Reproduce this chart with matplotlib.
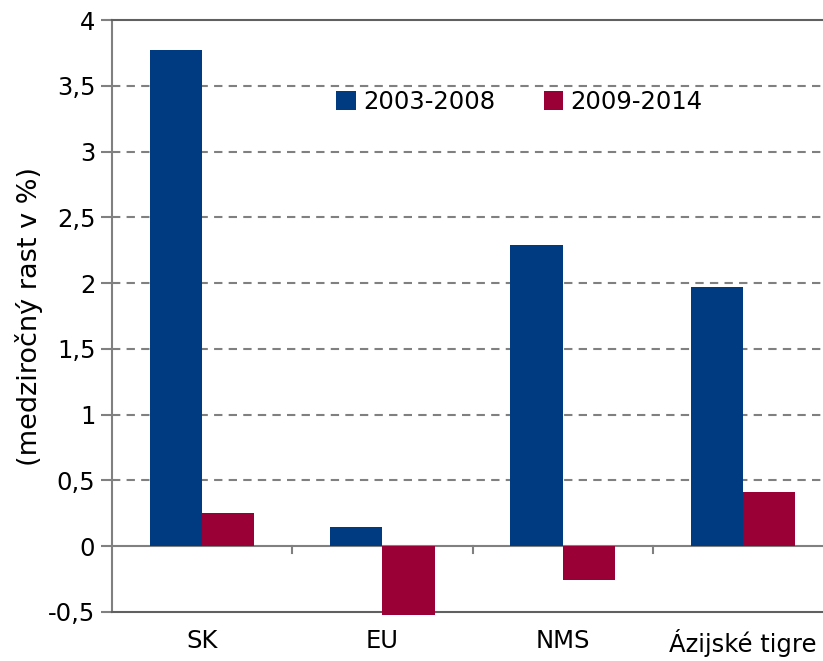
import numpy as np
import matplotlib.pyplot as plt

# data
categories = ["SK", "EU", "NMS", "Ázijské tigre"]
series_names = ["2003-2008", "2009-2014"]
vals_2003_2008 = [3.77, 0.145, 2.29, 1.97]
vals_2009_2014 = [0.25, -0.52, -0.26, 0.41]
yticks = [-0.5, 0, 0.5, 1, 1.5, 2, 2.5, 3, 3.5, 4]

blue = "#003A80"
red = "#9A0036"
gray = "#808080"

plt.rcParams['font.family'] = ['DejaVu Sans']

fig = plt.figure(figsize=(8.23, 6.61), dpi=100)
ax = fig.add_axes([112 / 823, 49 / 661, 721 / 823, 592 / 661])

x = np.arange(len(categories))
w = 0.29
ax.bar(x - w / 2, vals_2003_2008, w, color=blue, label=series_names[0], zorder=3, clip_on=False)
ax.bar(x + w / 2, vals_2009_2014, w, color=red, label=series_names[1], zorder=3, clip_on=False)

ax.set_xlim(-0.5, len(categories) - 0.5)
ax.set_ylim(-0.5, 4)
ax.set_yticks(yticks)
ax.set_yticklabels([("%g" % v).replace(".", ",") for v in yticks], fontsize=17.5)
ax.set_xticks(x)
ax.set_xticklabels(categories, fontsize=17.5)
ax.tick_params(axis='x', length=0, pad=12)
ax.tick_params(axis='y', length=8, width=1.5, color=gray, pad=4)

# horizontal dashed gridlines
for v in yticks[2:-1]:
    ax.axhline(v, color=gray, lw=1.5, ls=(0, (4, 3)), zorder=1)

# zero line with small ticks between groups
ax.axhline(0, color=gray, lw=1.5, zorder=2)
for b in x[:-1] + 0.5:
    ax.plot([b, b], [0, -0.055], color=gray, lw=1.5, zorder=2)

for side in ['top', 'bottom']:
    ax.spines[side].set_color("#606060")
    ax.spines[side].set_linewidth(1.5)
ax.spines['left'].set_color(gray)
ax.spines['left'].set_linewidth(1.5)
ax.spines['right'].set_visible(False)

ax.set_ylabel("(medziročný rast v %)", fontsize=19.5, labelpad=4)

ax.legend(loc='center', bbox_to_anchor=(0.565, 0.862), ncol=2, frameon=False,
          fontsize=17.5, handlelength=0.8, handleheight=0.8, handletextpad=0.3,
          columnspacing=2.0)

fig.savefig("out.png", dpi=100)
